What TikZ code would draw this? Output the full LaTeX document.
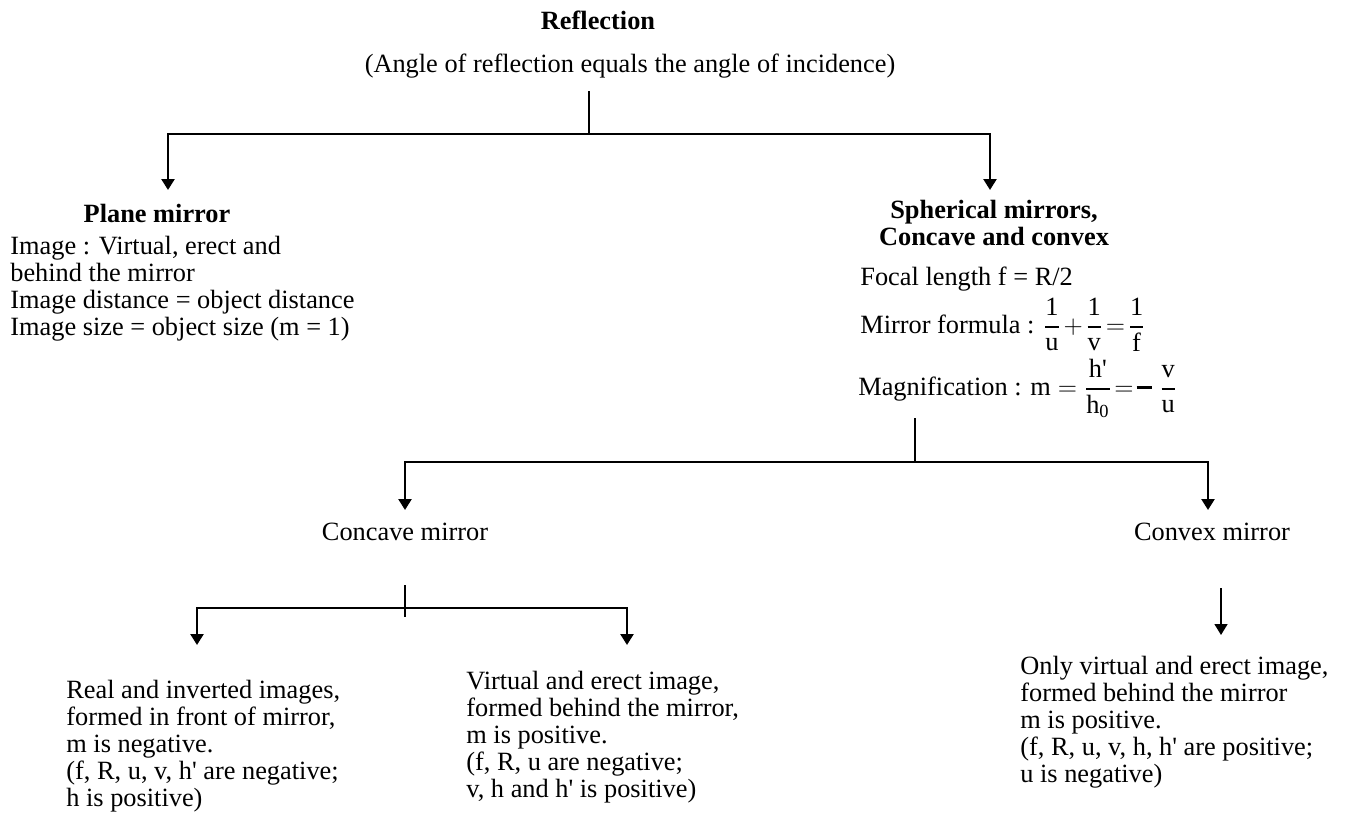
\documentclass[tikz,border=0pt]{standalone}
\usepackage{amsmath}
\usepackage{fontspec}
\setmainfont{Liberation Serif}
\usetikzlibrary{arrows.meta}

\newcommand{\pq}{\textquotesingle}
\newcommand{\tight}[1]{\mkern2mu{#1}\mkern2mu}
\newcommand{\fr}[2]{\genfrac{}{}{1.1pt}{0}{\text{#1}}{\text{#2}}}
\newcommand{\heavyminus}{\raisebox{0.24em}{\rule{0.6em}{1.3pt}}}

\begin{document}
\begin{tikzpicture}[x=0.02cm, y=-0.02cm,
  every node/.style={font=\fontsize{15}{15.3}\selectfont, inner sep=0pt},
  head/.style={font=\fontsize{15}{15.3}\selectfont\bfseries, align=center},
  txt/.style={anchor=north west, align=left},
  link/.style={line width=1.4pt},
  arr/.style={link, -{Triangle[length=0.22cm, width=0.26cm]}}]
\useasboundingbox (0,0) rectangle (1349,818);

% top level
\node[head, anchor=base] (refl) at (598,30) {Reflection};
\node[anchor=base] (law) at (630,72) {(Angle of reflection equals the angle of incidence)};
\coordinate (j1) at (589,134);
\coordinate (pl) at (168,190);
\coordinate (sp) at (990,190);

% plane mirror
\node[head, anchor=base] (plane) at (157,222) {Plane mirror};
\node[txt] (planetxt) at (10,236) {Image : Virtual, erect and\\behind the mirror\\Image distance = object distance\\Image size = object size (m = 1)};

% spherical mirrors
\node[head, anchor=base] (sph) at (994,245) {Spherical mirrors,\\Concave and convex};
\node[anchor=base west] (focal) at (860,285) {Focal length f = R/2};
\node[anchor=base west] (formula) at (860,333) {Mirror formula : $\fr{1}{u}\tight{+}\fr{1}{v}\tight{=}\fr{1}{f}$};
\node[anchor=base west] (magn) at (858,395) {Magnification : $\text{m}=\fr{h\pq}{h$_{\text{0}}$}\tight{=}\text{\heavyminus}\;\fr{v}{u}$};
\coordinate (s2) at (915,418);
\coordinate (j2) at (915,462);
\coordinate (cc) at (405,510);
\coordinate (cx) at (1208,510);

\node[anchor=base] (concave) at (405,540) {Concave mirror};
\node[anchor=base] (convex) at (1212,540) {Convex mirror};

% concave cases
\coordinate (t3) at (405,585);
\coordinate (j3) at (405,608);
\coordinate (b3) at (405,617);
\coordinate (ri) at (197,645);
\coordinate (ve) at (627,645);
\node[txt] (real) at (66,680) {Real and inverted images,\\formed in front of mirror,\\m is negative.\\(f, R, u, v, h\pq{} are negative;\\h is positive)};
\node[txt] (virt) at (466,671) {Virtual and erect image,\\formed behind the mirror,\\m is positive.\\(f, R, u are negative;\\v, h and h\pq{} is positive)};

% convex case
\coordinate (t4) at (1221,588);
\coordinate (b4) at (1221,635);
\node[txt] (only) at (1020,656) {Only virtual and erect image,\\formed behind the mirror\\m is positive.\\(f, R, u, v, h, h\pq{} are positive;\\u is negative)};

\draw[link] (j1 |- law.south) ++(0,13) -- (j1);
\draw[arr] (j1) -| (pl);
\draw[arr] (j1) -| (sp);
\draw[link] (s2) -- (j2);
\draw[arr] (j2) -| (cc);
\draw[arr] (j2) -| (cx);
\draw[link] (t3) -- (b3);
\draw[arr] (j3) -| (ri);
\draw[arr] (j3) -| (ve);
\draw[arr, line width=0.9pt] (t4) -- (b4);
\end{tikzpicture}
\end{document}
